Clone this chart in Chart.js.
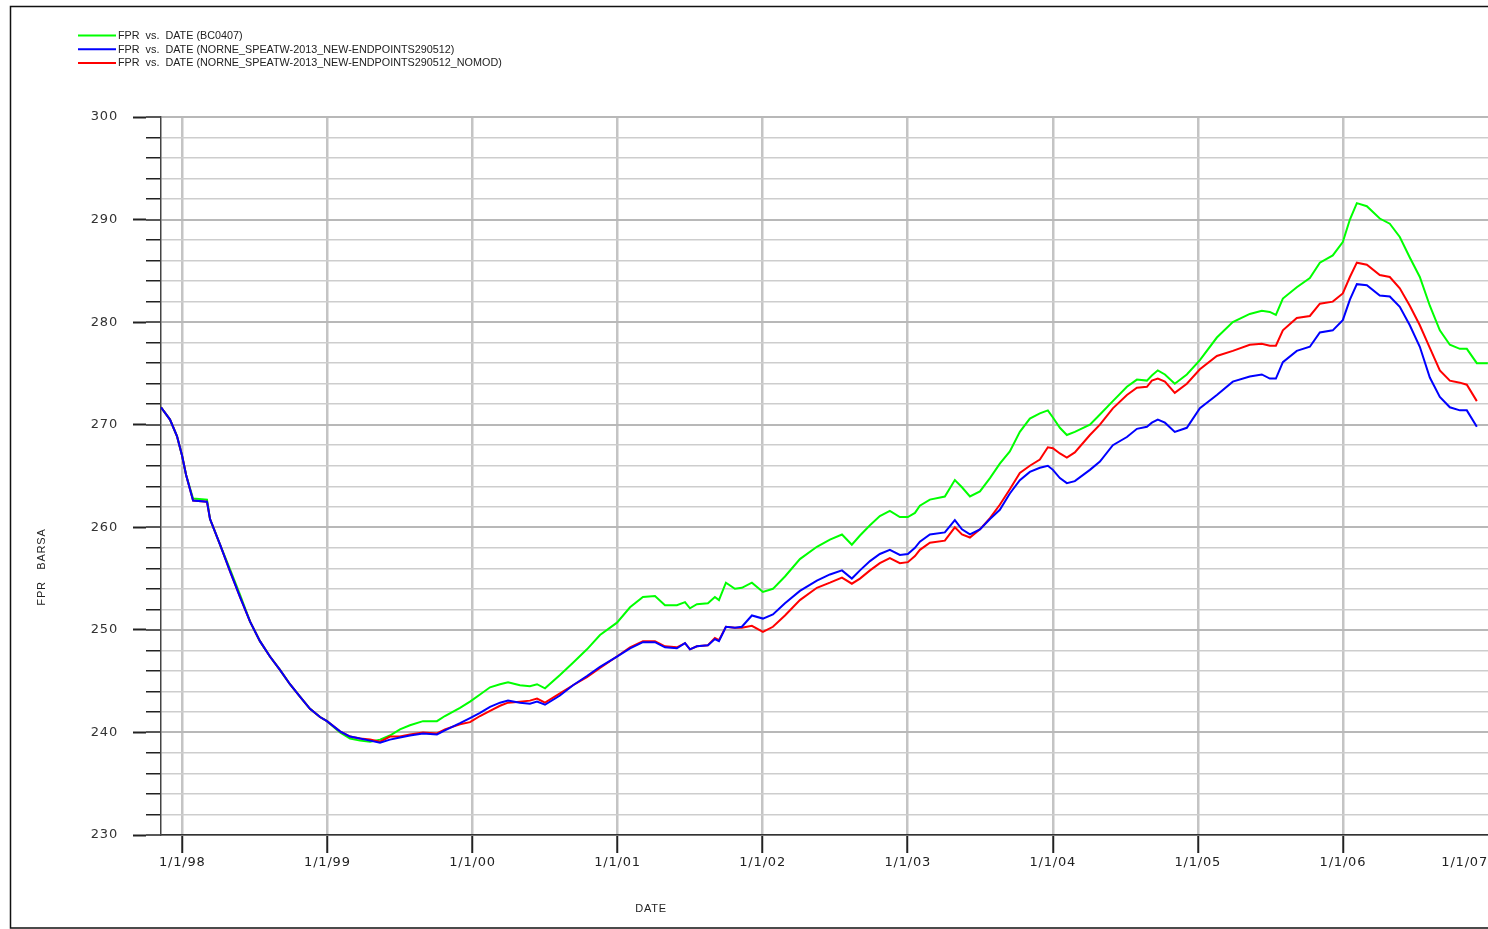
<!doctype html>
<html>
<head>
<meta charset="utf-8">
<script src="https://cdn.jsdelivr.net/npm/chart.js@4"></script>
<style>
  html, body { margin: 0; padding: 0; background: #fff; overflow: hidden; }
  canvas { display: block; }
</style>
</head>
<body>
<canvas id="canvas" width="1488" height="929"></canvas>
<script>
// dates as decimal years
const dates = [
  1997.853, 1997.915, 1997.963, 1997.998, 1998.026, 1998.074, 1998.170, 1998.191, 1998.260, 1998.329,
  1998.398, 1998.467, 1998.535, 1998.604, 1998.673, 1998.742, 1998.811, 1998.880, 1998.949, 1998.997,
  1999.087, 1999.156, 1999.225, 1999.294, 1999.363, 1999.431, 1999.500, 1999.569, 1999.659, 1999.755,
  1999.810, 1999.914, 1999.983, 2000.052, 2000.121, 2000.190, 2000.245, 2000.327, 2000.396, 2000.445,
  2000.500, 2000.603, 2000.693, 2000.789, 2000.879, 2000.996, 2001.086, 2001.175, 2001.258, 2001.327,
  2001.409, 2001.465, 2001.499, 2001.547, 2001.623, 2001.671, 2001.699, 2001.747, 2001.809, 2001.857,
  2001.926, 2002.002, 2002.071, 2002.154, 2002.257, 2002.374, 2002.464, 2002.547, 2002.615, 2002.671,
  2002.740, 2002.808, 2002.877, 2002.946, 2003.001, 2003.050, 2003.084, 2003.153, 2003.256, 2003.325,
  2003.374, 2003.429, 2003.498, 2003.567, 2003.635, 2003.704, 2003.773, 2003.842, 2003.911, 2003.966,
  2004.001, 2004.049, 2004.097, 2004.152, 2004.256, 2004.325, 2004.414, 2004.511, 2004.580, 2004.649,
  2004.683, 2004.724, 2004.773, 2004.841, 2004.924, 2005.014, 2005.131, 2005.241, 2005.358, 2005.441,
  2005.496, 2005.538, 2005.586, 2005.682, 2005.772, 2005.841, 2005.930, 2005.999, 2006.048, 2006.096,
  2006.165, 2006.254, 2006.323, 2006.392, 2006.461, 2006.530, 2006.599, 2006.668, 2006.737, 2006.806,
  2006.854, 2006.923, 2006.999
];

const fprBC0407 = [
  271.7, 270.5, 268.9, 267.0, 265.1, 262.8, 262.7, 260.8, 258.3, 255.9,
  253.4, 250.8, 248.9, 247.4, 246.1, 244.7, 243.5, 242.3, 241.5, 241.1,
  240.0, 239.4, 239.2, 239.1, 239.3, 239.7, 240.3, 240.7, 241.1, 241.1,
  241.6, 242.4, 243.0, 243.7, 244.4, 244.7, 244.9, 244.6, 244.5, 244.7,
  244.3, 245.6, 246.8, 248.1, 249.5, 250.7, 252.2, 253.2, 253.3, 252.4,
  252.4, 252.7, 252.1, 252.5, 252.6, 253.2, 252.9, 254.6, 254.0, 254.1,
  254.6, 253.7, 254.0, 255.2, 256.9, 258.1, 258.8, 259.3, 258.3, 259.2,
  260.2, 261.1, 261.6, 261.0, 261.0, 261.4, 262.1, 262.7, 263.0, 264.6,
  263.9, 263.0, 263.5, 264.8, 266.2, 267.4, 269.3, 270.6, 271.1, 271.4,
  270.7, 269.7, 269.0, 269.3, 270.0, 271.0, 272.3, 273.7, 274.4, 274.3,
  274.8, 275.3, 274.9, 274.0, 274.9, 276.3, 278.5, 280.0, 280.8, 281.1,
  281.0, 280.7, 282.3, 283.4, 284.3, 285.8, 286.5, 287.8, 290.0, 291.6,
  291.3, 290.1, 289.6, 288.3, 286.3, 284.4, 281.6, 279.2, 277.8, 277.4,
  277.4, 276.0, 276.0
];

const fprNewEndpoints = [
  271.7, 270.5, 268.9, 267.0, 265.1, 262.6, 262.5, 260.8, 258.3, 255.7,
  253.2, 250.8, 248.9, 247.4, 246.1, 244.7, 243.5, 242.3, 241.5, 241.1,
  240.1, 239.6, 239.4, 239.2, 239.0, 239.3, 239.5, 239.7, 239.9, 239.8,
  240.2, 240.9, 241.4, 241.9, 242.5, 242.9, 243.1, 242.9, 242.8, 243.0,
  242.7, 243.6, 244.6, 245.5, 246.4, 247.4, 248.2, 248.8, 248.8, 248.3,
  248.2, 248.7, 248.1, 248.4, 248.5, 249.1, 248.9, 250.3, 250.2, 250.3,
  251.4, 251.1, 251.5, 252.6, 253.8, 254.8, 255.4, 255.8, 255.0, 255.8,
  256.7, 257.4, 257.8, 257.3, 257.4, 258.0, 258.6, 259.3, 259.5, 260.7,
  259.8, 259.3, 259.8, 260.8, 261.7, 263.3, 264.6, 265.4, 265.8, 266.0,
  265.6, 264.8, 264.3, 264.5, 265.6, 266.4, 268.0, 268.8, 269.6, 269.8,
  270.2, 270.5, 270.2, 269.3, 269.7, 271.6, 272.9, 274.2, 274.7, 274.9,
  274.5, 274.5, 276.1, 277.2, 277.6, 279.0, 279.2, 280.2, 282.2, 283.7,
  283.6, 282.6, 282.5, 281.5, 279.7, 277.6, 274.6, 272.7, 271.7, 271.4,
  271.4, 269.8, null
];

const fprNomod = [
  271.7, 270.5, 268.9, 267.0, 265.1, 262.6, 262.5, 260.8, 258.3, 255.7,
  253.2, 250.8, 248.9, 247.4, 246.1, 244.7, 243.5, 242.3, 241.5, 241.1,
  240.1, 239.6, 239.4, 239.3, 239.1, 239.6, 239.6, 239.8, 240.0, 239.9,
  240.3, 240.8, 241.0, 241.6, 242.1, 242.6, 242.9, 243.0, 243.1, 243.3,
  242.9, 243.8, 244.6, 245.4, 246.3, 247.4, 248.3, 248.9, 248.9, 248.4,
  248.3, 248.7, 248.1, 248.4, 248.5, 249.2, 249.0, 250.3, 250.2, 250.2,
  250.4, 249.8, 250.3, 251.4, 252.9, 254.1, 254.6, 255.1, 254.5, 255.0,
  255.8, 256.5, 257.0, 256.5, 256.6, 257.2, 257.8, 258.5, 258.7, 260.0,
  259.3, 259.0, 259.8, 260.9, 262.2, 263.7, 265.3, 266.0, 266.6, 267.8,
  267.7, 267.2, 266.8, 267.3, 269.0, 270.0, 271.6, 272.9, 273.6, 273.7,
  274.3, 274.5, 274.2, 273.1, 274.0, 275.4, 276.7, 277.2, 277.8, 277.9,
  277.7, 277.7, 279.2, 280.4, 280.6, 281.8, 282.0, 282.8, 284.4, 285.8,
  285.6, 284.6, 284.4, 283.3, 281.6, 279.7, 277.5, 275.3, 274.3, 274.1,
  273.9, 272.3, null
];

const seriesLabels = [
  'FPR  vs.  DATE (BC0407)',
  'FPR  vs.  DATE (NORNE_SPEATW-2013_NEW-ENDPOINTS290512)',
  'FPR  vs.  DATE (NORNE_SPEATW-2013_NEW-ENDPOINTS290512_NOMOD)'
];
const seriesColors = ['#00ff00', '#0000ff', '#ff0000'];

const yearTicks = [1998, 1999, 2000, 2001, 2002, 2003, 2004, 2005, 2006, 2007];
const yMajorTicks = [230, 240, 250, 260, 270, 280, 290, 300];
const yMinorTicks = [];
for (let v = 230; v <= 300; v += 2) yMinorTicks.push(v);

const xMin = 1997.853, xMax = 2007.0;

function toPoints(values) {
  return values.map((v, i) => ({ x: dates[i], y: v }));
}

const decor = {
  id: 'decor',
  beforeDraw(chart) {
    const ctx = chart.ctx;
    ctx.save();
    ctx.fillStyle = '#fff';
    ctx.fillRect(0, 0, chart.width, chart.height);
    ctx.strokeStyle = '#111';
    ctx.lineWidth = 1.5;
    ctx.beginPath();
    ctx.moveTo(chart.width + 5, 6.5);
    ctx.lineTo(10.5, 6.5);
    ctx.lineTo(10.5, 928);
    ctx.lineTo(chart.width + 5, 928);
    ctx.stroke();
    ctx.restore();
    // wider spacing for the tick labels, like the reference
    ctx.letterSpacing = '0.8px';
  },
  beforeDatasetsDraw(chart) {
    chart.ctx.letterSpacing = '0px';
  },
  afterDraw(chart) {
    const ctx = chart.ctx;
    ctx.save();
    // legend
    ctx.font = '10.8px "Liberation Sans", Arial, sans-serif';
    ctx.letterSpacing = '0px';
    ctx.textBaseline = 'middle';
    ctx.textAlign = 'left';
    chart.data.datasets.forEach((ds, i) => {
      const y = 35.5 + i * 13.7;
      ctx.strokeStyle = ds.borderColor;
      ctx.lineWidth = 2;
      ctx.beginPath();
      ctx.moveTo(78, y);
      ctx.lineTo(116, y);
      ctx.stroke();
      ctx.fillStyle = '#222';
      ctx.fillText(ds.label, 118, y + 0.5);
    });
    // axis titles
    ctx.font = '11px "Liberation Sans", Arial, sans-serif';
    ctx.letterSpacing = '0.8px';
    ctx.fillStyle = '#222';
    ctx.textAlign = 'center';
    ctx.fillText('DATE', 651, 909);
    ctx.translate(42, 567);
    ctx.rotate(-Math.PI / 2);
    ctx.fillText('FPR   BARSA', 0, 0);
    ctx.restore();
  }
};

const tickFont = { family: '"DejaVu Sans", sans-serif', size: 13 };

new Chart(document.getElementById('canvas').getContext('2d'), {
  type: 'line',
  data: {
    datasets: [
      { label: seriesLabels[0], data: toPoints(fprBC0407), borderColor: seriesColors[0], order: 3 },
      { label: seriesLabels[1], data: toPoints(fprNewEndpoints), borderColor: seriesColors[1], order: 1 },
      { label: seriesLabels[2], data: toPoints(fprNomod), borderColor: seriesColors[2], order: 2 }
    ]
  },
  options: {
    responsive: false,
    animation: false,
    devicePixelRatio: 1,
    layout: { padding: { top: 117, left: 0, right: 0, bottom: 0 } },
    elements: {
      line: { borderWidth: 2, tension: 0, fill: false },
      point: { radius: 0, hoverRadius: 0 }
    },
    plugins: { legend: { display: false }, tooltip: { enabled: false } },
    scales: {
      x: {
        type: 'linear',
        position: 'bottom',
        min: xMin,
        max: xMax,
        afterBuildTicks: (s) => { s.ticks = [{ value: xMin }].concat(yearTicks.map((v) => ({ value: v }))); },
        afterFit: (s) => { s.height = 94; s.paddingLeft = 0; s.paddingRight = 0; },
        border: { display: true, color: '#333', width: 1.5 },
        grid: {
          color: (c) => (c.tick && c.tick.value >= 1998 && c.tick.value < 2007 ? '#c4c4c4' : 'rgba(0,0,0,0)'),
          lineWidth: 2.5,
          tickLength: 18,
          tickWidth: 2,
          tickColor: (c) => (c.tick && c.tick.value >= 1998 && c.tick.value < 2007 ? '#222' : 'rgba(0,0,0,0)')
        },
        ticks: {
          align: 'inner',
          autoSkip: false,
          maxRotation: 0,
          padding: 2,
          color: '#222',
          font: tickFont,
          callback: (v) => (v < 1998 ? '' : '1/1/' + String(Math.round(v) % 100).padStart(2, '0'))
        }
      },
      y: {
        position: 'left',
        weight: 1,
        min: 230,
        max: 300,
        afterBuildTicks: (s) => { s.ticks = yMajorTicks.map((v) => ({ value: v })); },
        afterFit: (s) => { s.width = 146; },
        border: { display: false },
        grid: { drawOnChartArea: false, tickLength: 13, tickWidth: 2, tickColor: '#222' },
        ticks: { padding: 15, color: '#333', font: tickFont }
      },
      y2: {
        position: 'left',
        weight: 0,
        min: 230,
        max: 300,
        afterBuildTicks: (s) => { s.ticks = yMinorTicks.map((v) => ({ value: v })); },
        afterFit: (s) => { s.width = 15; },
        border: { display: true, color: '#444', width: 1.5 },
        grid: {
          color: (c) => (c.tick && c.tick.value % 10 === 0 ? '#b8b8b8' : '#cdcdcd'),
          lineWidth: (c) => (c.tick && c.tick.value % 10 === 0 ? 2 : 1.5),
          tickLength: 15,
          tickWidth: 1.5,
          tickColor: '#222'
        },
        ticks: { display: false }
      }
    }
  },
  plugins: [decor]
});
</script>
</body>
</html>
